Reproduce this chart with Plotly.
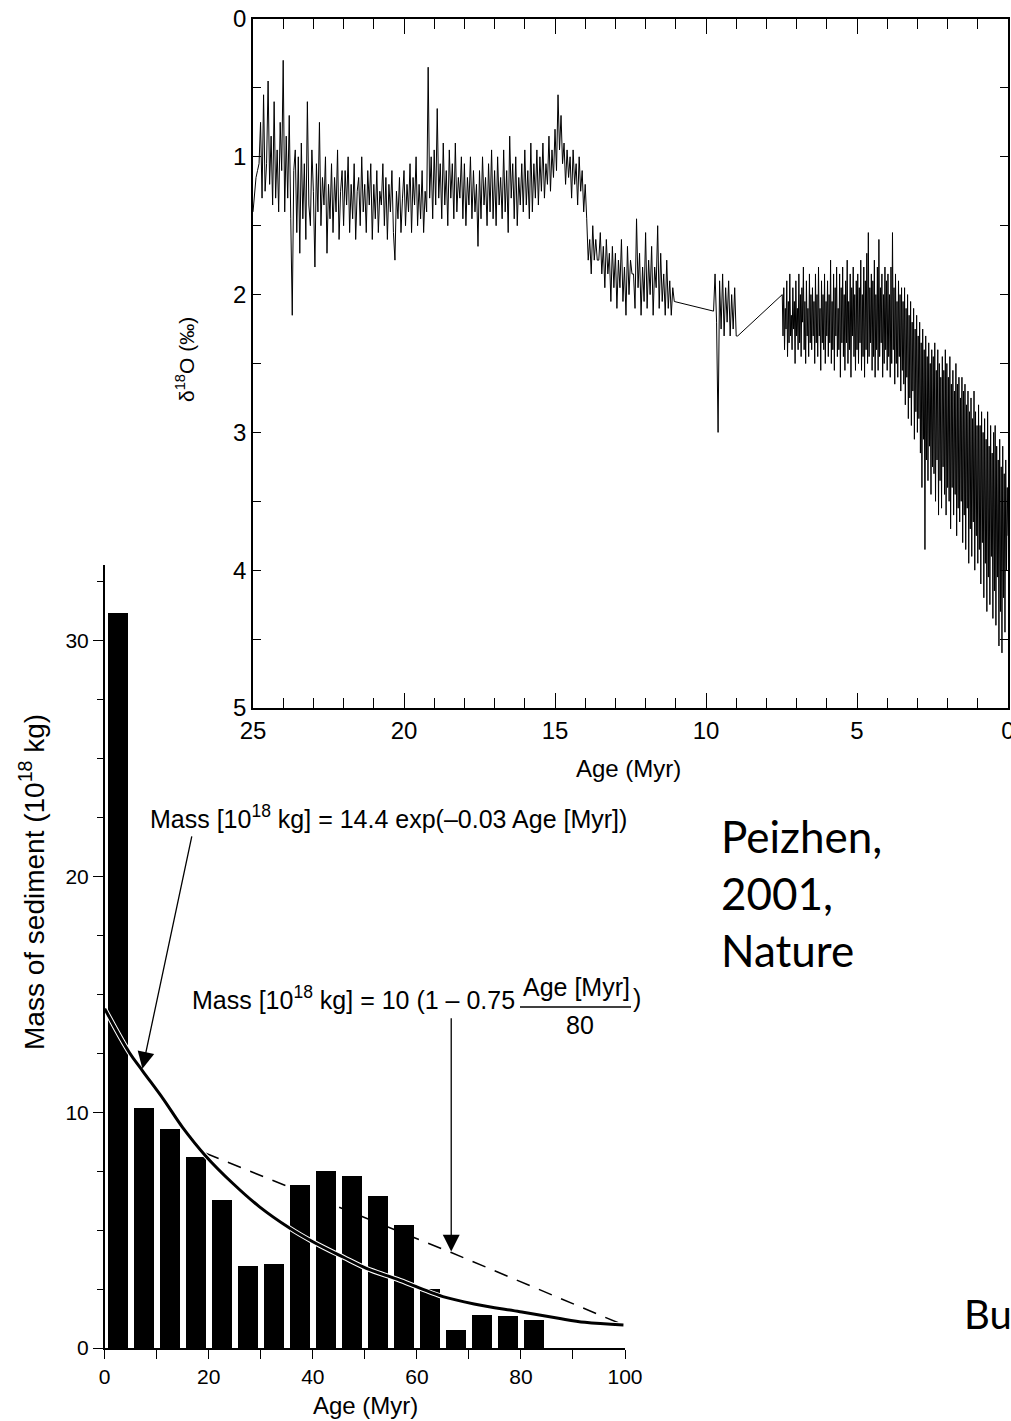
import plotly.graph_objects as go

W, H = 1011, 1421
def px(x): return x / W
def py(y): return 1 - y / H

# ---------------- top panel: delta18O record -------------
# segment A: 25.00 -> 11.05 Myr, one row per Myr
segA_start, segA_step = 25.0, 0.05
segA_vals = [
    1.40, 1.25, 1.15, 1.10, 1.05, 0.75, 1.30, 0.55, 1.25, 1.05, 0.45, 1.20, 0.85, 1.35, 0.60, 1.30, 0.95, 1.40, 0.75, 1.10,
    0.30, 1.40, 0.85, 1.30, 0.70, 1.45, 2.15, 1.10, 0.95, 1.55, 1.00, 1.70, 0.90, 1.45, 1.05, 1.60, 0.60, 1.35, 1.50, 0.95,
    1.25, 1.80, 1.05, 1.40, 0.75, 1.50, 1.15, 1.35, 1.00, 1.70, 1.20, 1.45, 1.05, 1.55, 1.15, 1.40, 0.95, 1.60, 1.25, 1.10,
    1.50, 1.10, 1.35, 1.00, 1.55, 1.20, 1.45, 1.05, 1.60, 1.25, 1.15, 1.50, 1.00, 1.40, 1.20, 1.55, 1.10, 1.35, 1.05, 1.60,
    1.20, 1.45, 1.10, 1.55, 1.25, 1.35, 1.05, 1.50, 1.15, 1.60, 1.20, 1.40, 1.10, 1.55, 1.75, 1.25, 1.45, 1.15, 1.55, 1.30,
    1.10, 1.50, 1.20, 1.40, 1.05, 1.55, 1.15, 1.35, 1.00, 1.50, 1.20, 1.45, 1.10, 1.55, 1.25, 1.40, 0.35, 1.30, 1.00, 1.45,
    0.95, 1.35, 0.65, 1.30, 1.05, 1.45, 0.90, 1.35, 1.10, 1.50, 0.95, 1.30, 1.05, 1.45, 0.90, 1.40, 1.15, 1.30, 1.00, 1.45,
    1.05, 1.50, 1.15, 1.35, 1.00, 1.45, 1.10, 1.40, 1.20, 1.65, 1.10, 1.45, 1.00, 1.35, 1.15, 1.50, 1.05, 1.40, 0.95, 1.45,
    1.10, 1.50, 1.00, 1.35, 1.15, 1.45, 0.95, 1.40, 1.10, 1.55, 0.85, 1.30, 1.05, 1.45, 1.00, 1.50, 1.15, 1.35, 1.05, 1.40,
    0.95, 1.35, 1.10, 1.45, 0.90, 1.40, 1.05, 1.30, 0.95, 1.35, 1.00, 1.25, 0.90, 1.30, 1.05, 1.20, 0.85, 1.25, 0.95, 1.15,
    0.80, 1.10, 0.55, 0.95, 0.70, 1.05, 0.90, 1.20, 0.95, 1.15, 1.00, 1.30, 0.95, 1.20, 1.05, 1.35, 1.00, 1.25, 1.10, 1.40,
    1.20, 1.45, 1.75, 1.60, 1.85, 1.50, 1.75, 1.60, 1.75, 1.75, 1.55, 1.85, 1.65, 1.95, 1.60, 1.85, 1.70, 2.05, 1.65, 1.95,
    1.70, 2.10, 1.75, 1.95, 1.60, 2.05, 1.80, 2.15, 1.65, 2.00, 1.75, 1.85, 1.85, 2.10, 1.45, 1.95, 1.70, 2.15, 1.80, 2.05,
    1.55, 2.10, 1.75, 2.00, 1.65, 2.15, 1.80, 1.95, 1.50, 2.10, 1.70, 2.05, 1.85, 2.15, 1.75, 2.10, 1.90, 2.15, 1.95, 2.05,
]
# segment B: 9.75 -> 8.95 Myr
segB_start, segB_step = 9.75, 0.05
segB_vals = [2.12, 1.85, 2.20, 3.00, 1.90, 2.25, 1.85, 2.30, 1.95, 2.20,
             1.90, 2.30, 2.00, 2.25, 1.95, 2.30, 2.30]
# segment C: 7.475 -> 0.0 Myr, one row per 0.5 Myr
segC_start, segC_step = 7.475, 0.025
segC_vals = [
    2.00, 2.30, 1.95, 2.40, 2.10, 2.25, 1.90, 2.45, 2.05, 2.35, 1.85, 2.30, 2.15, 2.40, 1.95, 2.25, 2.05, 2.50, 1.90, 2.30,
    2.10, 2.40, 1.85, 2.35, 2.00, 2.45, 1.95, 2.20, 1.80, 2.40, 2.05, 2.50, 1.90, 2.30, 2.10, 2.45, 1.85, 2.35, 2.00, 2.40,
    1.95, 2.30, 2.05, 2.50, 1.85, 2.35, 2.00, 2.45, 1.80, 2.30, 2.10, 2.55, 1.90, 2.35, 2.00, 2.40, 1.85, 2.50, 2.05, 2.30,
    1.90, 2.45, 2.00, 2.35, 1.75, 2.50, 2.05, 2.40, 1.85, 2.55, 1.95, 2.30, 1.80, 2.45, 2.10, 2.40, 1.85, 2.60, 1.95, 2.35,
    1.80, 2.45, 2.00, 2.55, 1.90, 2.35, 1.75, 2.50, 2.05, 2.40, 1.85, 2.60, 1.95, 2.30, 1.80, 2.45, 2.00, 2.55, 1.90, 2.40,
    1.85, 2.50, 1.95, 2.35, 1.75, 2.55, 2.00, 2.45, 1.80, 2.60, 1.90, 2.40, 1.70, 2.50, 1.55, 2.45, 1.95, 2.35, 1.85, 2.55,
    1.90, 2.45, 1.75, 2.60, 2.00, 2.40, 1.80, 2.55, 1.60, 2.45, 1.95, 2.35, 1.85, 2.60, 2.00, 2.50, 1.80, 2.40, 1.90, 2.55,
    1.85, 2.45, 2.00, 2.60, 1.80, 2.50, 1.55, 2.40, 1.95, 2.65, 1.85, 2.50, 2.05, 2.60, 1.90, 2.45, 2.00, 2.70, 1.95, 2.55,
    2.05, 2.65, 1.95, 2.80, 2.10, 2.60, 2.00, 2.90, 2.15, 2.75, 2.05, 2.95, 2.20, 2.70, 2.10, 3.05, 2.25, 2.85, 2.15, 3.00,
    2.30, 2.90, 2.20, 3.15, 2.35, 3.40, 2.25, 3.05, 2.40, 3.85, 2.30, 3.20, 2.45, 3.35, 2.35, 3.10, 2.50, 3.45, 2.40, 3.25,
    2.45, 3.30, 2.35, 3.50, 2.55, 3.20, 2.40, 3.60, 2.50, 3.35, 2.60, 3.55, 2.45, 3.25, 2.55, 3.45, 2.40, 3.60, 2.50, 3.40,
    2.60, 3.50, 2.45, 3.70, 2.65, 3.40, 2.55, 3.60, 2.70, 3.45, 2.50, 3.75, 2.65, 3.55, 2.60, 3.65, 2.75, 3.50, 2.60, 3.80,
    2.70, 3.60, 2.65, 3.85, 2.80, 3.55, 2.70, 3.95, 2.85, 3.70, 2.75, 3.90, 2.90, 3.65, 2.70, 4.00, 2.85, 3.75, 2.95, 3.95,
    2.80, 3.85, 2.95, 4.10, 2.85, 3.80, 3.00, 4.20, 2.90, 3.95, 3.05, 4.30, 2.85, 4.05, 3.10, 4.25, 2.95, 3.90, 3.15, 4.35,
    3.00, 4.15, 2.95, 4.40, 3.10, 4.05, 3.20, 4.55, 3.05, 4.30, 3.25, 4.60, 3.10, 4.20, 3.30, 4.45, 3.20, 4.00, 3.40, 3.75,
]

def seg_ages(start, step, vals):
    return [round(start - i * step, 4) for i in range(len(vals))]

top_age = seg_ages(segA_start, segA_step, segA_vals) + \
          seg_ages(segB_start, segB_step, segB_vals) + \
          seg_ages(segC_start, segC_step, segC_vals)
top_d18o = segA_vals + segB_vals + segC_vals

# ---------------- bottom panel: sediment mass -------------
bar_age = [2.5, 7.5, 12.5, 17.5, 22.5, 27.5, 32.5, 37.5, 42.5, 47.5,
           52.5, 57.5, 62.5, 67.5, 72.5, 77.5, 82.5]
bar_mass = [31.2, 10.2, 9.3, 8.1, 6.3, 3.5, 3.55, 6.9, 7.5, 7.3,
            6.45, 5.2, 2.5, 0.75, 1.4, 1.35, 1.2]

exp_age = [0, 4.7, 7.3, 11.3, 15, 19.4, 24.6, 29.7, 35.6, 40, 45.9, 50.3,
           56.3, 60.7, 65, 71, 79.8, 87.2, 92.3, 99.7]
exp_mass = [14.4, 12.55, 11.75, 10.55, 9.35, 8.15, 6.99, 6.0, 5.08, 4.51, 3.85,
            3.38, 2.91, 2.53, 2.18, 1.87, 1.54, 1.26, 1.09, 0.98]

lin_age = [19.4, 66.6, 100]
lin_mass = [8.26, 4.05, 0.95]

BLK = "black"
FONT = "Liberation Sans, Arial, Helvetica, sans-serif"
SLIDE = "Lato, Carlito, Calibri, sans-serif"

fig = go.Figure()
fig.add_trace(go.Scatter(x=top_age, y=top_d18o, mode="lines",
                         line=dict(color=BLK, width=1), xaxis="x", yaxis="y",
                         hoverinfo="skip", showlegend=False))
# invisible copy on the mirror axes so that top/right tick marks are drawn
fig.add_trace(go.Scatter(x=top_age, y=top_d18o, mode="lines", opacity=0,
                         line=dict(color=BLK, width=1), xaxis="x3", yaxis="y3",
                         hoverinfo="skip", showlegend=False))
fig.add_trace(go.Scatter(x=lin_age, y=lin_mass, mode="lines",
                         line=dict(color=BLK, width=1.5, dash="14px,10px"),
                         xaxis="x2", yaxis="y2", hoverinfo="skip", showlegend=False))
fig.add_trace(go.Bar(x=bar_age, y=bar_mass, width=3.8,
                     marker=dict(color=BLK, line=dict(width=0)),
                     xaxis="x2", yaxis="y2", hoverinfo="skip", showlegend=False))
fig.add_trace(go.Scatter(x=exp_age, y=exp_mass, mode="lines",
                         line=dict(color="white", width=5, shape="spline"),
                         xaxis="x2", yaxis="y2", hoverinfo="skip", showlegend=False))
fig.add_trace(go.Scatter(x=exp_age, y=exp_mass, mode="lines",
                         line=dict(color=BLK, width=3, shape="spline"),
                         xaxis="x2", yaxis="y2", hoverinfo="skip", showlegend=False))

common = dict(showgrid=False, zeroline=False, automargin=False,
              tickcolor=BLK, tickwidth=1.3)
top_x = dict(domain=[px(253), px(1008)], range=[25, 0], tick0=0, dtick=5, ticklen=15,
             ticks="inside",
             minor=dict(dtick=1, ticklen=10, ticks="inside", tickcolor=BLK, tickwidth=1.3),
             **common)
top_y = dict(domain=[py(708), py(19)], range=[5, 0], tick0=0, dtick=1, ticklen=8,
             ticks="inside",
             minor=dict(dtick=0.5, ticklen=8, ticks="inside", tickcolor=BLK, tickwidth=1.3),
             **common)

annotations = [
    dict(text="δ<sup>18</sup>O (‰)", x=px(185), y=py(360), textangle=-90,
         font=dict(size=21)),
    dict(text="Age (Myr)", x=px(628), y=py(768), font=dict(size=24)),
    dict(text="Mass of sediment (10<sup>18</sup> kg)", x=px(32), y=py(882),
         textangle=-90, font=dict(size=28)),
    dict(text="Age (Myr)", x=px(365), y=py(1405), font=dict(size=24)),
    dict(text="Mass [10<sup>18</sup> kg] = 14.4 exp(–0.03 Age [Myr])",
         x=px(148), y=py(817), xanchor="left", font=dict(size=25)),
    dict(text="Mass [10<sup>18</sup> kg] = 10 (1 – 0.75",
         x=px(190), y=py(998), xanchor="left", font=dict(size=25)),
    dict(text="Age [Myr]", x=px(576), y=py(987), font=dict(size=25)),
    dict(text="80", x=px(580), y=py(1025), font=dict(size=25)),
    dict(text=")", x=px(637), y=py(998), font=dict(size=25)),
    dict(text="Peizhen,<br>2001,<br>Nature", x=px(719), y=py(893), xanchor="left",
         align="left", font=dict(size=44, family=SLIDE)),
    dict(text="Bu", x=px(962), y=py(1314), xanchor="left",
         font=dict(size=40, family=SLIDE)),
]
for a in annotations:
    a.setdefault("xref", "paper")
    a.setdefault("yref", "paper")
    a.setdefault("showarrow", False)
    a.setdefault("xanchor", "center")
    a.setdefault("yanchor", "middle")
    f = a.get("font", {})
    f.setdefault("family", FONT)
    f.setdefault("color", BLK)
    a["font"] = f

# arrows
annotations += [
    dict(x=7.25, y=11.85, ax=16.8, ay=21.77, xref="x2", yref="y2", axref="x2", ayref="y2",
         showarrow=True, arrowhead=2, arrowsize=2.6, arrowwidth=1.3, arrowcolor=BLK, text=""),
    dict(x=66.6, y=4.09, ax=66.6, ay=14.05, xref="x2", yref="y2", axref="x2", ayref="y2",
         showarrow=True, arrowhead=2, arrowsize=2.6, arrowwidth=1.3, arrowcolor=BLK, text=""),
]

fig.update_layout(
    width=W, height=H, margin=dict(l=0, r=0, t=0, b=0, autoexpand=False),
    paper_bgcolor="white", plot_bgcolor="rgba(0,0,0,0)",
    showlegend=False, bargap=0,
    font=dict(family=FONT, color=BLK),
    xaxis=dict(anchor="y", showline=True, linecolor=BLK, linewidth=1.5, mirror=True,
               ticklabeloverflow="allow",
               tickfont=dict(size=24, color=BLK, family=FONT), **top_x),
    yaxis=dict(anchor="x", showline=True, linecolor=BLK, linewidth=1.5, mirror=True,
               ticklabeloverflow="allow",
               tickfont=dict(size=24, color=BLK, family=FONT), **top_y),
    xaxis3=dict(overlaying="x", side="top", anchor="y", showline=False,
                showticklabels=False, **top_x),
    yaxis3=dict(overlaying="y", side="right", anchor="x", showline=False,
                showticklabels=False, **top_y),
    xaxis2=dict(domain=[px(104.7), px(625)], anchor="y2", range=[0, 100],
                showline=True, linecolor=BLK, linewidth=1.5, mirror=False,
                ticks="outside", tick0=0, dtick=20, ticklen=9,
                minor=dict(dtick=10, ticklen=9, ticks="outside", tickcolor=BLK, tickwidth=1.3),
                tickfont=dict(size=21, color=BLK, family=FONT), **common),
    yaxis2=dict(domain=[py(1348), py(565)], anchor="x2", range=[0, 33.22],
                showline=True, linecolor=BLK, linewidth=1.5, mirror=False,
                ticks="outside", tick0=0, dtick=10, ticklen=10,
                minor=dict(dtick=2.5, ticklen=6, ticks="outside", tickcolor=BLK, tickwidth=1.3),
                tickfont=dict(size=21, color=BLK, family=FONT), **common),
    annotations=annotations,
    shapes=[dict(type="line", xref="paper", yref="paper", x0=px(520), x1=px(631),
                 y0=py(1007), y1=py(1007), line=dict(color=BLK, width=1.3))],
)

fig.write_html("out.html")
